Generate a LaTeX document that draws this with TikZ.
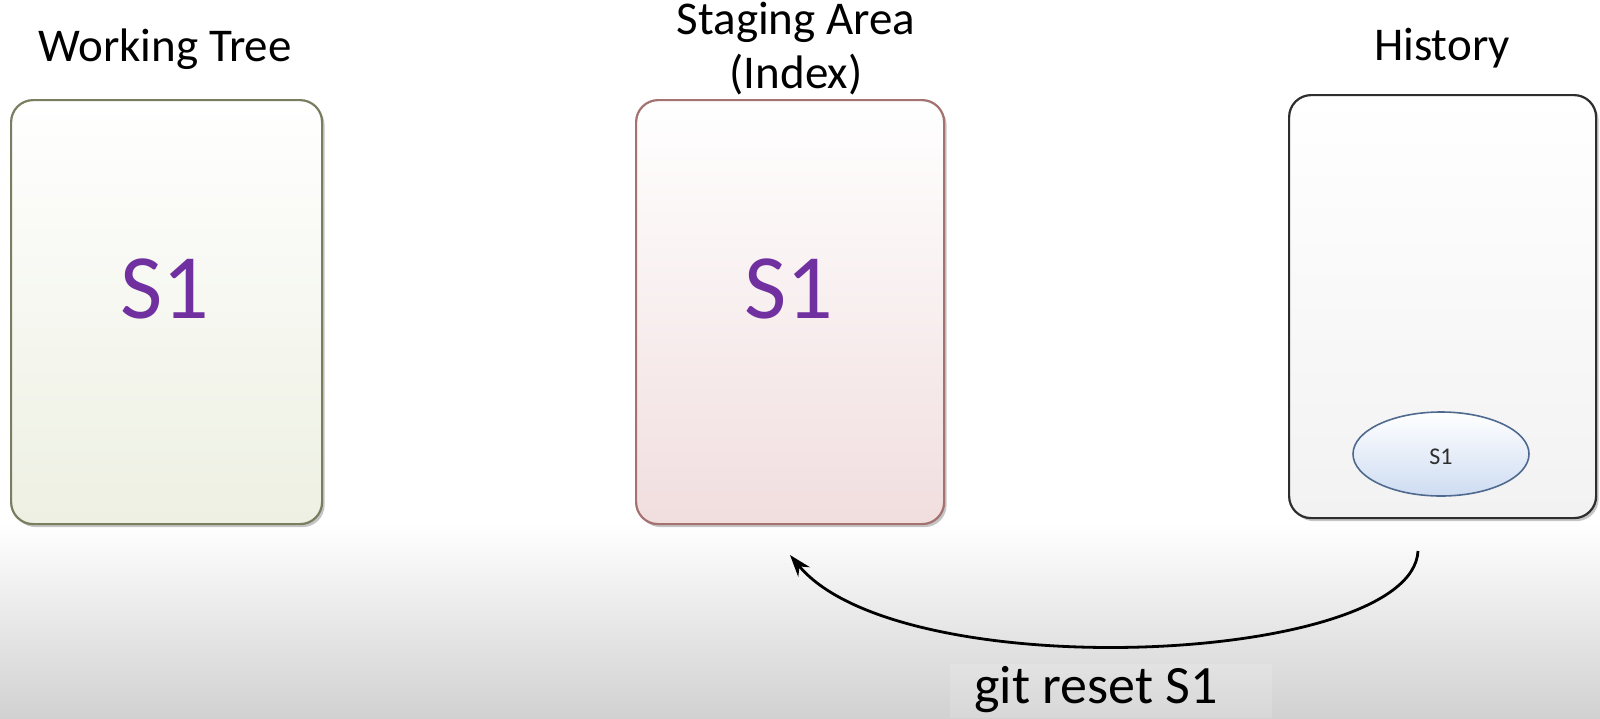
\documentclass[tikz,border=0pt]{standalone}
\usepackage{fontspec}
\setmainfont{Carlito}
\usetikzlibrary{shadows,arrows.meta}
\definecolor{purp}{HTML}{7030A0}
\definecolor{olive}{HTML}{7B7D60}
\definecolor{rose}{HTML}{A47270}
\definecolor{dark}{HTML}{2E2E2E}
\definecolor{elb}{HTML}{4F6A8E}
\tikzset{
  panel/.style={draw, line width=2.2pt, rounded corners=22pt, anchor=north west,
    drop shadow={shadow xshift=2.5pt, shadow yshift=-3pt, opacity=.45, fill=gray}},
  title/.style={font=\fontsize{47}{54}\selectfont, align=center, text=black, inner sep=0pt},
  big/.style={font=\fontsize{92}{96}\selectfont, text=purp, inner sep=0pt},
}
\begin{document}
\begin{tikzpicture}[x=1pt,y=-1pt]
\useasboundingbox (0,0) rectangle (1600,718);
\fill[white] (0,0) rectangle (1600,718);
\shade[top color=white, bottom color=gray!36] (0,522) rectangle (1600,718);
\fill[white,opacity=.15] (950,664) rectangle (1272,718);

% panels
\node[panel, draw=olive, top color=white, bottom color={rgb,255:red,237;green,240;blue,226},
  minimum width=311pt, minimum height=424pt] (wt) at (10,99) {};
\node[panel, draw=rose, top color=white, bottom color={rgb,255:red,241;green,222;blue,223},
  minimum width=308pt, minimum height=424pt] (sa) at (635,99) {};
\node[panel, draw=dark, top color=white, bottom color={rgb,255:red,242;green,242;blue,242},
  minimum width=307pt, minimum height=423pt] (hi) at (1288,94) {};

% titles
\node[title, anchor=base] (wtt) at (165,61) {Working Tree};
\node[title, anchor=base] (sat) at (796,88) {Staging Area\\(Index)};
\node[title, anchor=base] (hit) at (1442,60) {History};

% big S1
\node[big, anchor=base] (wts) at (165,318) {S1};
\node[big, anchor=base] (sas) at (789,318) {S1};

% ellipse
\draw[elb, line width=1.6pt, top color=white, bottom color={rgb,255:red,206;green,220;blue,242}]
  (1441,454) ellipse [x radius=88pt, y radius=42pt];
\node[font=\fontsize{24}{26}\selectfont, text=dark] (hs) at (1441,457) {S1};

% arrow
\coordinate (from) at (1418,551);
\coordinate (to) at (790,555);
\draw[line width=2.8pt, -{Stealth[length=22pt,width=15pt]}]
  (from) .. controls (1412,665) and (900,688) .. (to);
\node[font=\fontsize{54}{58}\selectfont, anchor=base, inner sep=0pt] (cmd) at (1096,703) {git reset S1};
\end{tikzpicture}
\end{document}
